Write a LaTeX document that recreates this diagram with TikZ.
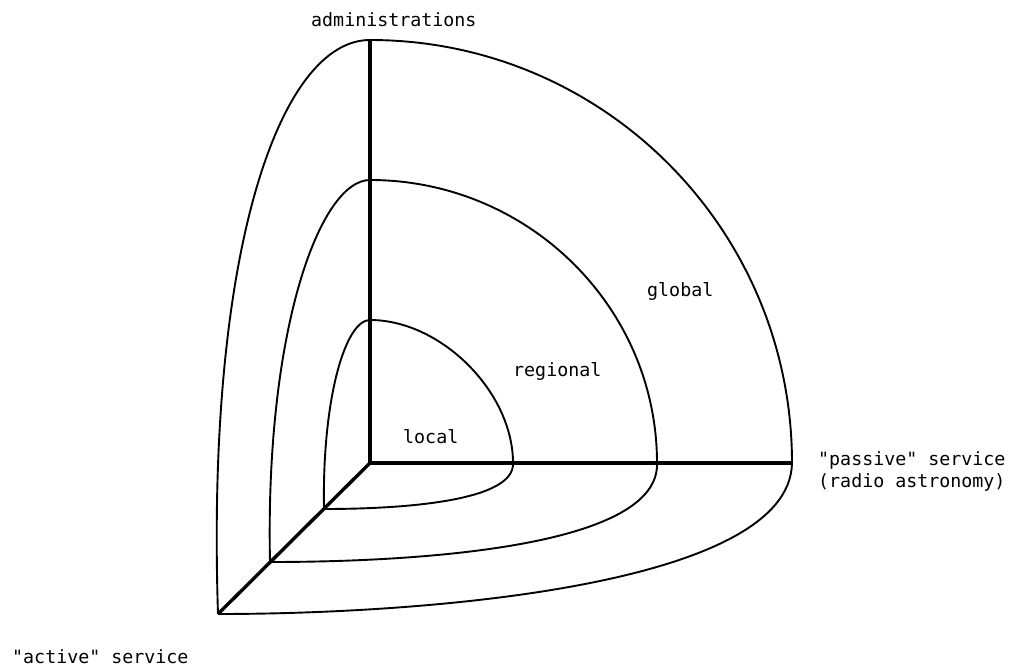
\documentclass[tikz,border=0pt]{standalone}
\usepackage{fontspec}
\setmonofont{DejaVu Sans Mono}
\begin{document}
\begin{tikzpicture}[x=1pt,y=-1pt,
  axisline/.style={line width=3.4pt, line join=round},
  shell/.style={line width=1.9pt},
  lbl/.style={font=\ttfamily\fontsize{18.3}{22}\selectfont, inner sep=0pt, anchor=base west}]
\useasboundingbox (0,0) rectangle (1009,668);
% key points
\coordinate (O) at (370,463);
\coordinate (Tl) at (370,40);
\coordinate (Rl) at (792,463);
\coordinate (Dl) at (218,614);
\coordinate (Tm) at (370,180);
\coordinate (Rm) at (657,463);
\coordinate (Dm) at (270,562);
\coordinate (Ts) at (370,320);
\coordinate (Rs) at (513,463);
\coordinate (Ds) at (324,509);
% front (vertical) quarter arcs
\draw[shell] (Tl) .. controls (603,40) and (792,229) .. (Rl);
\draw[shell] (Tm) .. controls (528,180) and (657,307) .. (Rm);
\draw[shell] (Ts) .. controls (441,320) and (513,392) .. (Rs);
% left (side) arcs
\draw[shell] (Tl) .. controls (280,40) and (206,250) .. (Dl);
\draw[shell] (Tm) .. controls (320,180) and (265,330) .. (Dm);
\draw[shell] (Ts) .. controls (345,320) and (322,400) .. (Ds);
% bottom arcs
\draw[shell] (Dl) .. controls (430,614) and (790,585) .. (Rl);
\draw[shell] (Dm) .. controls (430,562) and (660,545) .. (Rm);
\draw[shell] (Ds) .. controls (410,509) and (515,500) .. (Rs);
% axes
\draw[axisline] (Tl) -- (O) -- (Rl);
\draw[axisline] (O) -- (Dl);
% labels
\node[lbl] (adm) at (311,27) {administrations};
\node[lbl] (glob) at (647,297) {global};
\node[lbl] (reg) at (513,376) {regional};
\node[lbl] (loc) at (403,443) {local};
\node[lbl] (pas1) at (818,465) {"passive" service};
\node[lbl] (pas2) at (818,487) {(radio astronomy)};
\node[lbl] (act) at (12,663) {"active" service};
\end{tikzpicture}
\end{document}
